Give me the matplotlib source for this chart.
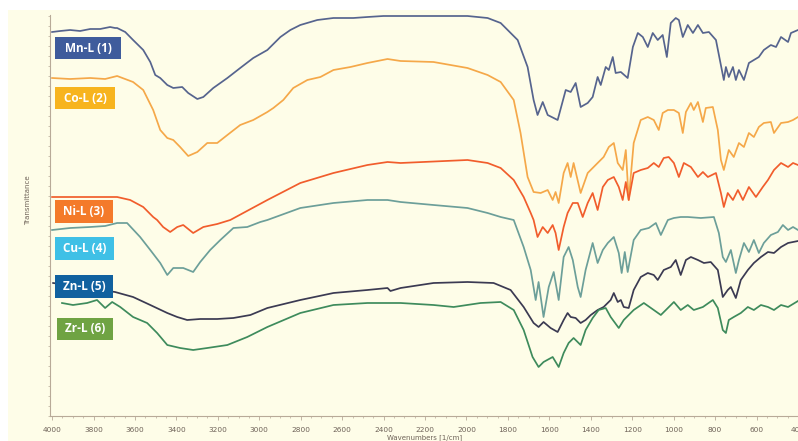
import matplotlib
matplotlib.use("Agg")
import matplotlib.pyplot as plt
from matplotlib.patches import Rectangle
from matplotlib.ticker import MultipleLocator

# FT-IR spectra of the metal complexes (wavenumber in 1/cm, transmittance in a.u., stacked)
mn_wn = [4000, 3961, 3913, 3865, 3816, 3768, 3720, 3696, 3686, 3647, 3609, 3560, 3526, 3502, 3478,
         3444, 3415, 3372, 3343, 3299, 3270, 3222, 3154, 3092, 3029, 2961, 2898, 2850, 2802, 2720,
         2642, 2546, 2478, 2401, 2318, 2159, 1995, 1898, 1835, 1753, 1705, 1676, 1657, 1632, 1608,
         1560, 1521, 1497, 1473, 1449, 1415, 1391, 1367, 1352, 1328, 1313, 1294, 1280, 1255, 1222,
         1197, 1173, 1149, 1125, 1101, 1077, 1053, 1033, 1014, 990, 975, 956, 932, 907, 883, 859,
         830, 796, 777, 758, 748, 734, 714, 700, 685, 661, 637, 613, 589, 565, 531, 506, 482, 448,
         434, 400]
mn_t = [384, 385, 386, 385, 387, 387, 389, 388, 388, 384, 376, 366, 354, 341, 338,
        331, 328, 329, 323, 317, 319, 328, 338, 348, 358, 366, 379, 386, 391, 396,
        398, 398, 399, 400, 400, 400, 400, 398, 393, 376, 349, 316, 301, 314, 301,
        296, 326, 324, 333, 309, 313, 319, 339, 331, 349, 346, 359, 343, 344, 338,
        369, 383, 379, 369, 383, 376, 381, 359, 393, 398, 396, 379, 391, 383, 391, 383,
        384, 376, 356, 336, 349, 339, 349, 336, 346, 336, 353, 356, 359, 366, 371, 369, 379, 374,
        383, 386]

co_wn = [4000, 3913, 3816, 3744, 3686, 3609, 3560, 3512, 3478, 3444, 3415, 3382, 3343, 3299, 3251,
         3203, 3154, 3092, 3029, 2961, 2932, 2884, 2836, 2768, 2705, 2642, 2560, 2478, 2381, 2318,
         2159, 1995, 1898, 1835, 1772, 1739, 1705, 1676, 1642, 1608, 1584, 1570, 1555, 1531, 1512,
         1497, 1483, 1449, 1415, 1367, 1338, 1313, 1289, 1270, 1246, 1231, 1217, 1193, 1159, 1125,
         1096, 1072, 1053, 1028, 999, 975, 956, 941, 917, 903, 883, 859, 845, 811, 787, 772, 758,
         734, 710, 685, 661, 637, 613, 589, 565, 531, 516, 482, 448, 424, 400]
co_t = [338, 337, 338, 337, 340, 334, 326, 306, 286, 278, 276, 269, 260, 264, 273,
        273, 281, 291, 296, 304, 308, 316, 328, 336, 339, 346, 349, 353, 357, 355,
        354, 348, 341, 334, 316, 283, 239, 224, 223, 226, 216, 224, 213, 243, 253,
        239, 253, 223, 243, 253, 259, 269, 273, 253, 246, 266, 216, 273, 296, 299,
        296, 286, 303, 306, 306, 303, 283, 304, 313, 306, 314, 294, 308, 309, 286, 256, 246,
        266, 259, 273, 269, 283, 279, 289, 293, 294, 283, 293, 294, 296, 299]

ni_wn = [4000, 3686, 3623, 3560, 3512, 3493, 3464, 3430, 3396, 3367, 3319, 3270, 3203, 3140, 2961,
         2802, 2642, 2478, 2381, 2318, 1995, 1898, 1835, 1772, 1724, 1690, 1676, 1657, 1632, 1608,
         1584, 1570, 1555, 1531, 1512, 1487, 1463, 1439, 1415, 1391, 1367, 1342, 1318, 1289, 1265,
         1246, 1231, 1217, 1193, 1159, 1125, 1096, 1072, 1048, 1024, 999, 975, 951, 917, 883, 859,
         835, 796, 772, 758, 739, 714, 690, 666, 637, 603, 570, 545, 516, 482, 448, 424, 400]
ni_t = [219, 219, 216, 209, 199, 196, 189, 184, 189, 191, 183, 189, 192, 196, 216,
        233, 243, 251, 254, 253, 256, 253, 248, 236, 219, 203, 196, 179, 189, 183,
        191, 183, 166, 189, 203, 213, 213, 199, 213, 223, 206, 229, 236, 239, 229,
        216, 234, 216, 243, 246, 248, 253, 249, 258, 259, 253, 239, 253, 249, 239, 244,
        239, 243, 223, 209, 223, 216, 226, 216, 229, 219, 229, 236, 246, 253, 249, 253, 251]

cu_wn = [4000, 3913, 3816, 3744, 3686, 3638, 3575, 3526, 3478, 3444, 3415, 3367, 3319, 3285, 3237,
         3188, 3125, 3058, 2995, 2961, 2802, 2642, 2478, 2381, 2318, 2159, 1995, 1898, 1835, 1772,
         1724, 1690, 1666, 1652, 1628, 1603, 1579, 1555, 1531, 1507, 1487, 1463, 1449, 1425, 1391,
         1367, 1342, 1318, 1289, 1265, 1251, 1236, 1222, 1193, 1159, 1120, 1086, 1062, 1028, 999,
         966, 932, 869, 806, 782, 763, 748, 724, 700, 685, 661, 637, 613, 589, 565, 531, 497, 473,
         448, 424, 400]
cu_t = [186, 188, 189, 190, 193, 193, 179, 166, 153, 141, 148, 148, 144, 154, 166,
        176, 188, 189, 194, 196, 208, 213, 216, 216, 214, 211, 208, 203, 199, 196,
        169, 146, 116, 134, 99, 129, 144, 116, 159, 169, 156, 129, 119, 146, 173,
        153, 166, 173, 179, 163, 143, 164, 144, 176, 186, 188, 193, 181, 196, 198,
        199, 199, 198, 199, 183, 159, 154, 166, 143, 156, 173, 164, 176, 163, 173, 181, 184, 191,
        186, 189, 186]

zn_wn = [3995, 3696, 3609, 3526, 3444, 3396, 3348, 3285, 3203, 3125, 3043, 2961, 2802, 2642, 2478,
         2381, 2367, 2318, 2159, 1995, 1869, 1787, 1724, 1676, 1652, 1628, 1594, 1560, 1531, 1512,
         1497, 1473, 1449, 1425, 1400, 1367, 1338, 1304, 1289, 1270, 1255, 1241, 1217, 1193, 1159,
         1125, 1096, 1077, 1048, 1014, 990, 966, 941, 917, 883, 854, 821, 787, 763, 739, 724, 700,
         676, 642, 613, 579, 545, 516, 482, 448, 400]
zn_t = [133, 124, 119, 111, 103, 99, 96, 97, 97, 98, 101, 108, 116, 123, 126,
        128, 125, 128, 133, 134, 133, 126, 109, 93, 89, 94, 88, 84, 96, 103,
        99, 98, 93, 96, 101, 106, 109, 116, 123, 114, 116, 109, 108, 126, 139,
        143, 141, 136, 146, 149, 156, 141, 156, 159, 156, 153, 154, 146, 119, 126, 129, 118,
        136, 146, 153, 159, 164, 163, 169, 173, 175]

zr_wn = [3952, 3899, 3831, 3783, 3744, 3710, 3671, 3609, 3541, 3493, 3444, 3382, 3319, 3251, 3154,
         3058, 2961, 2802, 2642, 2478, 2318, 2159, 2062, 1932, 1835, 1772, 1724, 1681, 1652, 1628,
         1584, 1555, 1531, 1507, 1483, 1449, 1425, 1391, 1362, 1328, 1304, 1265, 1241, 1193, 1144,
         1096, 1062, 1028, 999, 966, 932, 903, 859, 811, 787, 763, 748, 734, 710, 676, 642, 613,
         579, 545, 516, 482, 448, 400]
zr_t = [113, 111, 113, 116, 108, 114, 109, 99, 93, 83, 71, 68, 66, 68, 71,
        79, 89, 103, 111, 113, 113, 111, 109, 113, 114, 106, 86, 59, 49, 54,
        59, 49, 63, 73, 78, 71, 86, 98, 106, 108, 99, 88, 96, 106, 113,
        106, 101, 108, 114, 106, 111, 106, 109, 116, 108, 86, 83, 96, 99, 103, 109, 106,
        111, 109, 106, 111, 109, 115]

series_names = ["Mn-L (1)", "Co-L (2)", "Ni-L (3)", "Cu-L (4)", "Zn-L (5)", "Zr-L (6)"]
line_colors = ["#56648e", "#f5a849", "#f15d2c", "#6c9f99", "#3b3a52", "#3e8b5c"]
badge_colors = ["#3f5c9c", "#f7b41e", "#f47a2a", "#3fc0e6", "#11619f", "#6fa343"]
spectra = [(mn_wn, mn_t), (co_wn, co_t), (ni_wn, ni_t), (cu_wn, cu_t), (zn_wn, zn_t), (zr_wn, zr_t)]

W, H = 798, 441
fig = plt.figure(figsize=(W / 100, H / 100), dpi=100, facecolor="white")

# cream panel behind the plot
fig.patches.append(Rectangle((8 / W, 0), 1 - 8 / W, 1 - 10 / H, transform=fig.transFigure,
                             facecolor="#fefde8", edgecolor="none", zorder=-5))

ax = fig.add_axes([50 / W, 1 - 416 / H, 748 / W, 401 / H])
ax.set_facecolor("none")
ax.set_zorder(1)

for (wn, t), c in zip(spectra, line_colors):
    ax.plot(wn, t, color=c, lw=1.25, solid_joinstyle="round")

ax.set_xlim(4010, 400)
ax.set_ylim(0, 401)

axis_col = "#b8aa98"
for side in ("top", "right"):
    ax.spines[side].set_visible(False)
for side in ("left", "bottom"):
    ax.spines[side].set_color(axis_col)
    ax.spines[side].set_linewidth(0.8)

ax.xaxis.set_major_locator(MultipleLocator(200))
ax.xaxis.set_minor_locator(MultipleLocator(50))
ax.yaxis.set_major_locator(MultipleLocator(20))
ax.yaxis.set_minor_locator(MultipleLocator(10))
ax.tick_params(axis="x", which="major", length=3, width=0.6, color=axis_col,
               labelsize=5.3, labelcolor="#6e6258", pad=5)
ax.tick_params(axis="x", which="minor", length=1.5, width=0.5, color=axis_col)
ax.tick_params(axis="y", which="both", length=1.5, width=0.5, color=axis_col, labelleft=False)

fig.text(425 / W, 1 - 437.5 / H, "Wavenumbers [1/cm]", fontsize=5, color="#6e6258",
         ha="center", va="center")
fig.text(28 / W, 1 - 200 / H, "Transmittance", fontsize=5, color="#6e6258",
         rotation=90, ha="center", va="center")

# coloured name badges, drawn above the spectra
badge_boxes = [(55, 37, 66, 22), (55, 87, 60, 22), (55, 200, 58, 23),
               (55, 237, 59, 23), (55, 275, 58, 23), (57, 318, 56, 22)]
for name, col, (bx, by, bw, bh) in zip(series_names, badge_colors, badge_boxes):
    fig.patches.append(Rectangle((bx / W, 1 - (by + bh) / H), bw / W, bh / H,
                                 transform=fig.transFigure, facecolor=col,
                                 edgecolor="none", zorder=3))
    fig.text((bx + bw / 2) / W, 1 - (by + bh / 2) / H, name, fontsize=8.5,
             fontweight="bold", family="Open Sans", color="white",
             ha="center", va="center", zorder=4)

fig.savefig("out.png", dpi=100, facecolor="white")
